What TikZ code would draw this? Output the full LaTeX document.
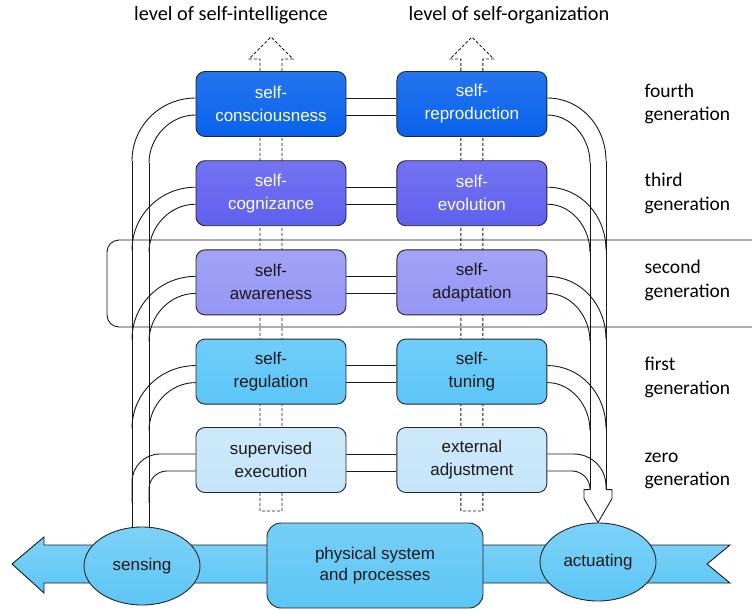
\documentclass[tikz,border=0pt]{standalone}
\usepackage{fontspec}
\setmainfont{Carlito}
\newfontfamily\boxfont{Liberation Sans}
\usepackage{tikz}
\usetikzlibrary{arrows,positioning,calc,shapes,backgrounds}

\begin{document}
\begin{tikzpicture}[x=1pt,y=-1pt]
\definecolor{genfour}{RGB}{8,98,236}
\definecolor{genthree}{RGB}{96,96,240}
\definecolor{gentwo}{RGB}{150,150,245}
\definecolor{genone}{RGB}{92,198,248}
\definecolor{genzero}{RGB}{198,229,250}
\definecolor{physfill}{RGB}{92,198,245}
\tikzset{
     levelbox/.style={draw=black!85, line width=0.9pt, rounded corners=9pt,
        minimum width=150pt, minimum height=65pt, align=center, text=black!90,
        font=\boxfont\fontsize{17}{23}\selectfont,
        top color=#1!88!white, bottom color=#1},
     sensor/.style={ellipse, draw=black!85, line width=0.9pt, inner sep=0pt,
        minimum width=116pt, minimum height=78pt, text=black!90,
        font=\boxfont\fontsize{17}{23}\selectfont,
        top color=physfill!80!white, bottom color=physfill},
     physbox/.style={draw=black!85, line width=0.9pt, rounded corners=14pt,
        minimum width=216pt, minimum height=85pt, align=center, text=black!90,
        font=\boxfont\fontsize{17}{21}\selectfont,
        top color=physfill!85!white, bottom color=physfill},
     pipe/.style={draw=black!90, line width=0.9pt},
     dashpipe/.style={pipe, dash pattern=on 3pt off 2pt},
     genlabel/.style={anchor=west, align=left, inner sep=0pt,
        font=\fontsize{19.5}{23.5}\selectfont},
     headlabel/.style={inner sep=0pt, font=\fontsize{20.3}{24}\selectfont}}

\useasboundingbox (0,0) rectangle (752,610);

% The boxes, self-intelligence side
\node[levelbox=genfour, text=white] (consc) at (271,104) {self-\\consciousness};
\node[levelbox=genthree, text=white, below=23.3pt of consc] (cogn) {self-\\cognizance};
\node[levelbox=gentwo, below=23.3pt of cogn] (aware) {self-\\awareness};
\node[levelbox=genone, below=23.3pt of aware] (regul) {self-\\regulation};
\node[levelbox=genzero, below=22.5pt of regul] (superv) {supervised\\execution};

% The boxes, self-organization side
\node[levelbox=genfour, text=white, right=50pt of consc] (repro) {self-\\reproduction};
\node[levelbox=genthree, text=white, right=50pt of cogn] (evol) {self-\\evolution};
\node[levelbox=gentwo, right=50pt of aware] (adapt) {self-\\adaptation};
\node[levelbox=genone, right=50pt of regul] (tuning) {self-\\tuning};
\node[levelbox=genzero, right=50pt of superv] (extadj) {external\\adjustment};

% The physical level
\node[physbox] (phys) at (375,565.5) {physical system\\and processes};
\node[sensor] (sens) at (142,566) {sensing};
\node[sensor] (act) at (598,562) {actuating};

% The labels
\node[headlabel] (headintel) at (231,15) {level of self-intelligence};
\node[headlabel] (headorg) at (509,15) {level of self-organization};
\node[genlabel] (genfourlbl) at ($(repro.east)+(97,0)$) {fourth\\generation};
\node[genlabel] (genthreelbl) at ($(evol.east)+(97,0)$) {third\\generation};
\node[genlabel] (gentwolbl) at ($(adapt.east)+(97,-2)$) {second\\generation};
\node[genlabel] (genonelbl) at ($(tuning.east)+(97,6)$) {first\\generation};
\node[genlabel] (genzerolbl) at ($(extadj.east)+(97,11)$) {zero\\generation};

\coordinate (lout) at (132,0);
\coordinate (lin) at (149,0);
\coordinate (rout) at (606,0);
\coordinate (rin) at (590,0);

\begin{scope}[on background layer]
% dashed level arrows
\foreach \t/\b in {consc/superv, repro/extadj}
  \draw[dashpipe] ($(\b.south)+(-11,18)$) -- ($(\t.north)+(-11,-12)$) -- ++(-11,0)
     -- ($(\t.north)+(0,-34)$) -- ($(\t.north)+(22,-12)$) -- ++(-11,0)
     -- ($(\b.south)+(11,18)$) -- cycle;

% second generation band
\draw[pipe, rounded corners=12pt] (752,240) -- (107,240) -- (107,327) -- (752,327);

% the big arrow under everything
\draw[pipe, top color=physfill!80!white, bottom color=physfill]
  (12,564) -- (44,537) -- (44,545) -- (730,545) -- (707,564) -- (730,583)
  -- (44,583) -- (44,593) -- cycle;

% pipes between the two columns
\foreach \a/\b in {consc/repro, cogn/evol, aware/adapt, regul/tuning, superv/extadj} {
  \draw[pipe] ([yshift=6pt]\a.east) -- ([yshift=6pt]\b.west);
  \draw[pipe] ([yshift=-11pt]\a.east) -- ([yshift=-11pt]\b.west);
}

% pipes down to sensing
\foreach \a in {consc, cogn, aware, regul} {
  \draw[pipe] ([yshift=6pt]\a.west) .. controls +(-35,0) and +(0,-35) .. ($(\a.south -| lout)+(0,24)$);
  \draw[pipe] ([yshift=-11pt]\a.west) .. controls +(-26,0) and +(0,-25) .. ($(\a.south -| lin)+(0,26)$);
}
\draw[pipe, rounded corners=28pt] ([yshift=6pt]superv.west) -| ($(superv.south -| lout)+(0,10)$);
\draw[pipe, rounded corners=18pt] ([yshift=-11pt]superv.west) -| ($(superv.south -| lin)+(0,10)$);
\draw[pipe] ($(consc.south -| lout)+(0,24)$) -- (sens.center -| lout);
\draw[pipe] ($(consc.south -| lin)+(0,26)$) -- (sens.center -| lin);

% pipes down to actuating
\foreach \b in {repro, evol, adapt, tuning} {
  \draw[pipe] ([yshift=6pt]\b.east) .. controls +(33,0) and +(0,-35) .. ($(\b.south -| rout)+(0,24)$);
  \draw[pipe] ([yshift=-11pt]\b.east) .. controls +(24,0) and +(0,-25) .. ($(\b.south -| rin)+(0,26)$);
}
\draw[pipe, rounded corners=32pt] ([yshift=6pt]extadj.east) -| ($(act.north)+(8,-33)$);
\draw[pipe, rounded corners=18pt] ([yshift=-11pt]extadj.east) -| ($(act.north)+(-8,-33)$);
\draw[pipe] ($(repro.south -| rout)+(0,24)$) -- ($(act.north)+(8,-33)$);
\draw[pipe] ($(repro.south -| rin)+(0,26)$) -- ($(act.north)+(-8,-33)$);
\draw[pipe, fill=white] ($(act.north)+(-8,-33)$) -- ++(-6,0) -- ++(0,9) -- (act.north)
  -- ++(14,-24) -- ++(0,-9) -- ++(-6,0);
\end{scope}
\end{tikzpicture}
\end{document}
